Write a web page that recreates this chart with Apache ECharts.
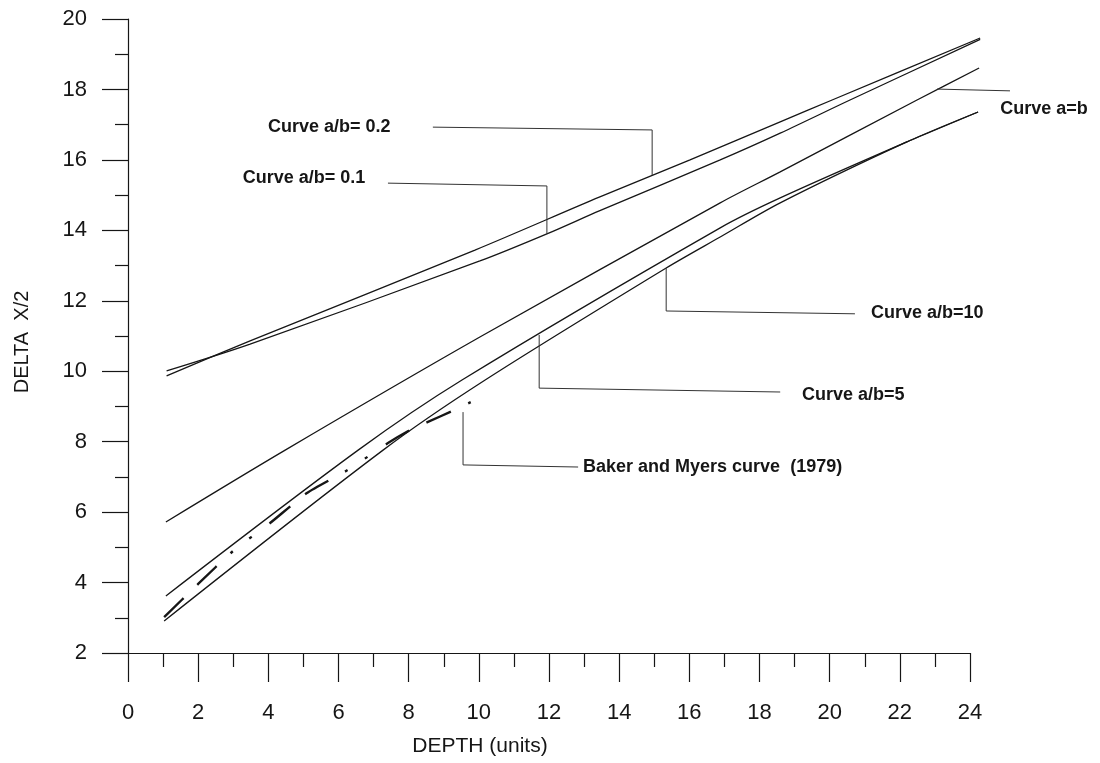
<!DOCTYPE html>
<html>
<head>
<meta charset="utf-8">
<script src="https://cdn.jsdelivr.net/npm/echarts@6/dist/echarts.min.js"></script>
<style>
  html, body { margin: 0; padding: 0; background: #fff; }
  #main { width: 1100px; height: 763px; }
</style>
</head>
<body>
<div id="main"></div>
<script>
// curves, [depth, delta x/2]
const curveAB02 = [[1.1, 9.87], [3.48, 10.86], [9.89, 13.44], [13.45, 14.95], [16.02, 16.0], [18.59, 17.08], [20.07, 17.7], [24.29, 19.46]];
const curveAB01 = [[1.1, 10.01], [3.48, 10.77], [10.03, 13.13], [11.94, 13.9], [13.45, 14.56], [16.88, 16.0], [18.59, 16.76], [20.58, 17.7], [24.29, 19.42]];
const curveAeqB = [[1.08, 5.72], [4.48, 7.76], [10.03, 10.97], [16.88, 14.78], [18.59, 15.66], [22.49, 17.7], [24.26, 18.61]];
const curveAB5 = [[1.08, 3.62], [6.56, 7.76], [9.52, 9.75], [16.88, 14.07], [18.59, 14.92], [22.2, 16.51], [24.23, 17.36]];
const curveAB10 = [[1.03, 2.91], [7.27, 7.76], [10.18, 9.75], [15.34, 12.93], [16.88, 13.81], [18.59, 14.78], [22.2, 16.51], [24.23, 17.36]];
const bakerMyers = [[1.03, 3.02], [2.0, 3.96], [3.0, 4.9], [4.05, 5.69], [5.1, 6.54], [6.27, 7.2], [7.41, 7.96], [8.04, 8.33], [8.55, 8.56], [9.24, 8.87], [9.83, 9.15]];

// leader lines from the labels to the curves
const leaderAB02 = [[8.69, 16.93], [14.94, 16.85], [14.94, 15.57]];
const leaderAB01 = [[7.41, 15.34], [11.94, 15.26], [11.94, 13.9]];
const leaderAeqB = [[23.06, 18.01], [25.14, 17.96]];
const leaderAB10 = [[15.34, 12.93], [15.34, 11.71], [20.72, 11.63]];
const leaderAB5 = [[11.72, 11.03], [11.72, 9.52], [18.59, 9.41]];
const leaderBaker = [[9.55, 8.84], [9.55, 7.34], [12.83, 7.28]];

const labelTexts = ['Curve a/b= 0.2', 'Curve a/b= 0.1', 'Curve a=b', 'Curve a/b=10', 'Curve a/b=5', 'Baker and Myers curve  (1979)'];
const labelAnchors = [[3.99, 16.93], [3.27, 15.49], [24.86, 17.45], [21.18, 11.65], [19.21, 9.33], [12.97, 7.28]];

const xTicks = [0, 24, 2];
const yTicks = [2, 20, 2];

const ink = '#161616';
const font = '"Liberation Sans", Arial, sans-serif';
const chart = echarts.init(document.getElementById('main'));

// drawing layer: same scale as the axes, but a little wider so
// curve ends and the a=b leader can run past depth 24
const overhang = 1.2;

function curve(data, extra) {
    return Object.assign({
        type: 'line',
        xAxisIndex: 1,
        yAxisIndex: 1,
        data: data,
        symbol: 'none',
        smooth: 0.3,
        silent: true,
        lineStyle: {color: ink, width: 1.3}
    }, extra || {});
}

function leader(data) {
    return {
        type: 'line',
        xAxisIndex: 1,
        yAxisIndex: 1,
        data: data,
        symbol: 'none',
        silent: true,
        lineStyle: {color: '#333', width: 1}
    };
}

const axisCommon = {
    type: 'value',
    interval: 2,
    axisLine: {show: true, lineStyle: {color: ink, width: 1.2}},
    axisTick: {show: true, inside: false, lineStyle: {color: ink, width: 1.2}},
    minorTick: {show: true, splitNumber: 2, lineStyle: {color: ink, width: 1.2}},
    splitLine: {show: false},
    axisLabel: {color: ink, fontSize: 22, fontFamily: font}
};

const hiddenAxis = {
    type: 'value',
    show: false,
    splitLine: {show: false}
};

const option = {
    animation: false,
    backgroundColor: '#fff',
    grid: [
        {left: 128, right: 130, top: 19, bottom: 110},
        {left: 128, right: 130 - overhang * 35.08, top: 19, bottom: 110}
    ],
    xAxis: [
        echarts.util.merge({
            gridIndex: 0,
            min: xTicks[0], max: xTicks[1], interval: xTicks[2],
            axisTick: {length: 29},
            minorTick: {length: 14},
            axisLabel: {margin: 49}
        }, axisCommon),
        Object.assign({gridIndex: 1, min: xTicks[0], max: xTicks[1] + overhang}, hiddenAxis)
    ],
    yAxis: [
        echarts.util.merge({
            gridIndex: 0,
            min: yTicks[0], max: yTicks[1], interval: yTicks[2],
            axisTick: {length: 26},
            minorTick: {length: 13},
            axisLabel: {margin: 41}
        }, axisCommon),
        Object.assign({gridIndex: 1, min: yTicks[0], max: yTicks[1]}, hiddenAxis)
    ],
    series: [
        curve(curveAB02),
        curve(curveAB01),
        curve(curveAeqB),
        curve(curveAB5),
        curve(curveAB10),
        curve(bakerMyers, {
            smooth: 0.2,
            lineStyle: {color: ink, width: 2.4, type: [27, 19, 27, 19, 3, 21, 3, 22]}
        }),
        leader(leaderAB02),
        leader(leaderAB01),
        leader(leaderAeqB),
        leader(leaderAB10),
        leader(leaderAB5),
        leader(leaderBaker)
    ]
};

chart.setOption(option);

// curve labels, placed at data positions
const labelGraphics = labelTexts.map(function (t, i) {
    const p = chart.convertToPixel({gridIndex: 0}, labelAnchors[i]);
    return {
        type: 'text',
        x: p[0],
        y: p[1],
        silent: true,
        style: {
            text: t,
            fill: ink,
            font: 'bold 18px ' + font,
            textAlign: 'left',
            textVerticalAlign: 'middle'
        }
    };
});

chart.setOption({
    graphic: labelGraphics.concat([
        {
            type: 'text',
            x: 22, y: 342,
            rotation: Math.PI / 2,
            style: {
                text: 'DELTA  X/2', fill: ink,
                font: '20px ' + font,
                textAlign: 'center', textVerticalAlign: 'middle'
            }
        },
        {
            type: 'text',
            x: 480, y: 746,
            style: {
                text: 'DEPTH (units)', fill: ink,
                font: '21px ' + font,
                textAlign: 'center', textVerticalAlign: 'middle'
            }
        }
    ])
});
</script>
</body>
</html>
